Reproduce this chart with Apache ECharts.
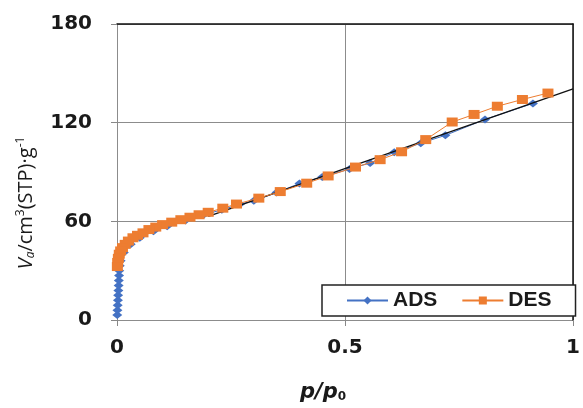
<!DOCTYPE html>
<html>
<head>
<meta charset="utf-8">
<script src="https://cdn.jsdelivr.net/npm/echarts@6/dist/echarts.min.js"></script>
<style>html,body{margin:0;padding:0;background:#fff}#c{width:583px;height:408px}</style>
</head>
<body>
<div id="c"></div>
<script>
// ADS (adsorption) branch
const adsX = [0.0005,0.001,0.0015,0.002,0.0025,0.003,0.0035,0.004,0.0045,0.005,0.006,0.008,0.015,0.03,0.05,0.08,0.11,0.15,0.19,0.23,0.27,0.30,0.35,0.40,0.45,0.51,0.555,0.608,0.666,0.72,0.807,0.912];
const adsY = [3,6,9,12,15,18,21,24,27,30,33,36,41,46,50,54,57,60.5,64,67,70.5,72.5,77.5,83,87,91.8,95.5,102,107.5,112.3,122,131.7];
// DES (desorption) branch
const desX = [0.945,0.889,0.834,0.783,0.735,0.677,0.624,0.577,0.523,0.463,0.416,0.358,0.311,0.262,0.232,0.2,0.18,0.16,0.14,0.12,0.10,0.085,0.07,0.057,0.045,0.035,0.025,0.018,0.012,0.008,0.005,0.003,0.0015,0.0008];
const desY = [138,134.1,130,125,120.4,109.7,102.3,97.5,93,87.6,83.2,78.1,74.1,70.5,68,65.5,64,62.5,61,59.5,58,56.5,55,53,51.5,50,48,46,44,42,40,37.5,35,32.5];
// linear trend line endpoints
const trendX = [0.2, 1];
const trendY = [63, 140.5];
const yTicks = [0, 60, 120, 180];
const xTicks = [0, 0.5, 1];

const zip = (a, b) => a.map((v, i) => [v, b[i]]);
const chart = echarts.init(document.getElementById('c'), null, {renderer: 'canvas'});
const lblFont = {fontFamily: 'DejaVu Sans', fontWeight: 'bold', fontSize: 20, color: '#1a1a1a'};
chart.setOption({
  animation: false,
  backgroundColor: '#fff',
  grid: {left: 117, right: 6, top: 24, bottom: 86, containLabel: false},
  legend: {
    left: 322, top: 285,
    padding: [5, 24, 5, 24],
    borderColor: '#222', borderWidth: 1.5,
    backgroundColor: '#fff',
    itemWidth: 41, itemHeight: 10, itemGap: 24,
    textStyle: {fontFamily: 'Liberation Sans', fontWeight: 'bold', fontSize: 21, color: '#1a1a1a'},
    data: ['ADS', 'DES']
  },
  xAxis: [{
    type: 'value', min: 0, max: 1, interval: 0.5,
    axisLine: {show: false},
    axisTick: {show: true, length: 6, lineStyle: {color: '#888'}},
    axisLabel: Object.assign({margin: 18, formatter: v => (xTicks.includes(v) ? String(v) : '')}, lblFont),
    splitLine: {show: true, lineStyle: {color: '#8c8c8c', width: 1}},
    name: '{it|p}{n|/}{it|p}{sub|0}',
    nameLocation: 'middle', nameGap: 62,
    nameTextStyle: {padding: [0, 44, 0, 0], rich: {
      it: {fontFamily: 'DejaVu Sans', fontStyle: 'italic', fontWeight: 'bold', fontSize: 21, color: '#1a1a1a'},
      n: {fontFamily: 'DejaVu Sans', fontStyle: 'italic', fontWeight: 'bold', fontSize: 21, color: '#1a1a1a'},
      sub: {fontFamily: 'DejaVu Sans', fontWeight: 'bold', fontSize: 12, color: '#1a1a1a', verticalAlign: 'bottom', padding: [8,0,0,0]}
    }}
  }, {
    type: 'value', min: 0, max: 1, position: 'top',
    axisLine: {show: true, onZero: false, lineStyle: {color: '#111', width: 1.5}},
    axisTick: {show: false}, axisLabel: {show: false}, splitLine: {show: false}
  }],
  yAxis: [{
    type: 'value', min: 0, max: 180, interval: 60,
    axisLine: {show: true, onZero: false, lineStyle: {color: '#8c8c8c', width: 1}},
    axisTick: {show: true, length: 6, lineStyle: {color: '#888'}},
    axisLabel: Object.assign({margin: 25}, lblFont),
    splitLine: {show: true, lineStyle: {color: '#8c8c8c', width: 1}},
    name: '{it|V}{sub|a}{n|/cm}{sup|3}{n|(STP)·g}{sup|-1}',
    nameLocation: 'middle', nameGap: 80,
    nameTextStyle: {padding: [0, 62, 0, 0], rich: {
      it: {fontFamily: 'Open Sans', fontStyle: 'italic', fontSize: 20, color: '#1a1a1a', lineHeight: 22},
      n: {fontFamily: 'Open Sans', fontSize: 20, color: '#1a1a1a', lineHeight: 22},
      sub: {fontFamily: 'Open Sans', fontStyle: 'italic', fontSize: 12, color: '#1a1a1a', verticalAlign: 'bottom', lineHeight: 22},
      sup: {fontFamily: 'Open Sans', fontSize: 12, color: '#1a1a1a', verticalAlign: 'top', lineHeight: 22}
    }}
  }, {
    type: 'value', min: 0, max: 180, position: 'right',
    axisLine: {show: true, onZero: false, lineStyle: {color: '#111', width: 1.5}},
    axisTick: {show: false}, axisLabel: {show: false}, splitLine: {show: false}
  }],
  series: [{
    name: 'ADS', type: 'line', data: zip(adsX, adsY),
    symbol: 'diamond', symbolSize: [10, 8], showSymbol: true,
    itemStyle: {color: '#4472C4'}, lineStyle: {color: '#4472C4', width: 1},
    z: 2
  }, {
    name: 'trend', type: 'line', data: zip(trendX, trendY),
    symbol: 'none', lineStyle: {color: '#111', width: 1.3}, z: 3, silent: true
  }, {
    name: 'DES', type: 'line', data: zip(desX, desY),
    symbol: 'rect', symbolSize: [11, 9], showSymbol: true,
    itemStyle: {color: '#ED7D31'}, lineStyle: {color: '#ED7D31', width: 1},
    z: 4
  }]
});
</script>
</body>
</html>
